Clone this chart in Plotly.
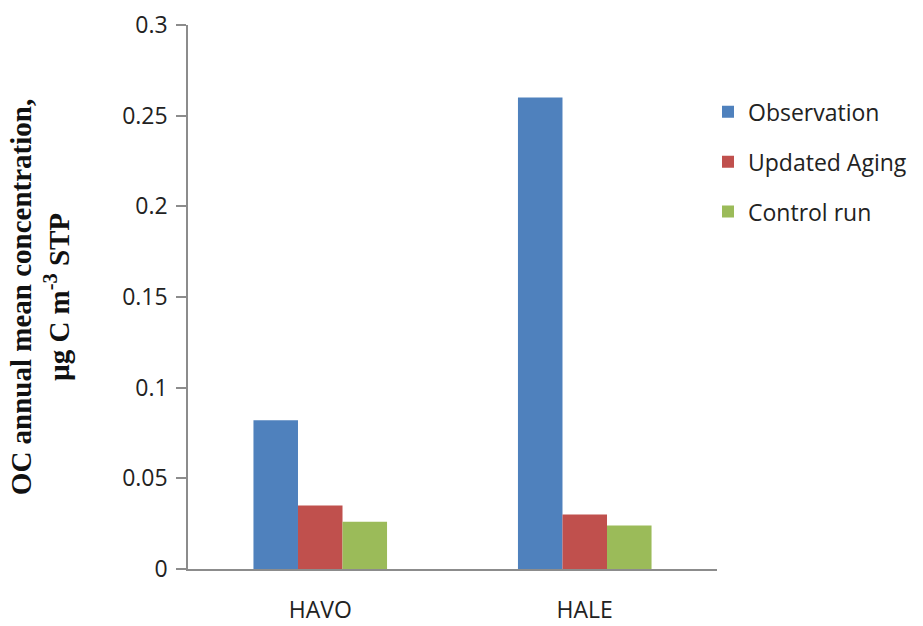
import plotly.graph_objects as go

# Sites and annual-mean OC concentrations (µg C m^-3 STP)
sites = ["HAVO", "HALE"]
observation = [0.082, 0.26]
updated_aging = [0.035, 0.030]
control_run = [0.026, 0.024]

series = [
    ("Observation", observation, "#4F81BD"),
    ("Updated Aging", updated_aging, "#C0504D"),
    ("Control run", control_run, "#9BBB59"),
]

fig = go.Figure()
for i, (name, vals, color) in enumerate(series):
    fig.add_trace(go.Bar(
        x=sites, y=vals, name=name, marker_color=color,
        marker_line_width=0, legendgroup=f"g{i}",
    ))

axis_gray = "#8C8C8C"
tick_font = dict(family="Open Sans", size=23, color="#222222")

fig.update_layout(
    width=923, height=626,
    margin=dict(l=188, r=206, t=25, b=57, autoexpand=False),
    paper_bgcolor="white", plot_bgcolor="white",
    barmode="group", bargap=0.495, bargroupgap=0,
    font=tick_font,
    showlegend=True,
    legend=dict(
        x=0.983, xanchor="left", y=0.88, yanchor="top",
        font=dict(family="Open Sans", size=23, color="#222222"),
        traceorder="grouped", tracegroupgap=17,
        itemsizing="constant",
    ),
    xaxis=dict(
        showline=True, linecolor=axis_gray, linewidth=1.5,
        showgrid=False, ticks="", ticklabelstandoff=20,
        tickfont=tick_font, automargin=False,
    ),
    yaxis=dict(
        range=[0, 0.3], dtick=0.05, tick0=0,
        showline=True, linecolor=axis_gray, linewidth=1.5,
        ticks="outside", ticklen=10, tickcolor=axis_gray, tickwidth=1.5,
        showgrid=False, zeroline=False, ticklabelstandoff=4,
        tickfont=tick_font, automargin=False,
        title=dict(
            text="<b>OC annual mean concentration,<br>µg C m<sup>-3</sup> STP</b>",
            font=dict(family="Liberation Serif", size=29, color="#111111"),
            standoff=44,
        ),
    ),
)

fig.write_html("out.html")
